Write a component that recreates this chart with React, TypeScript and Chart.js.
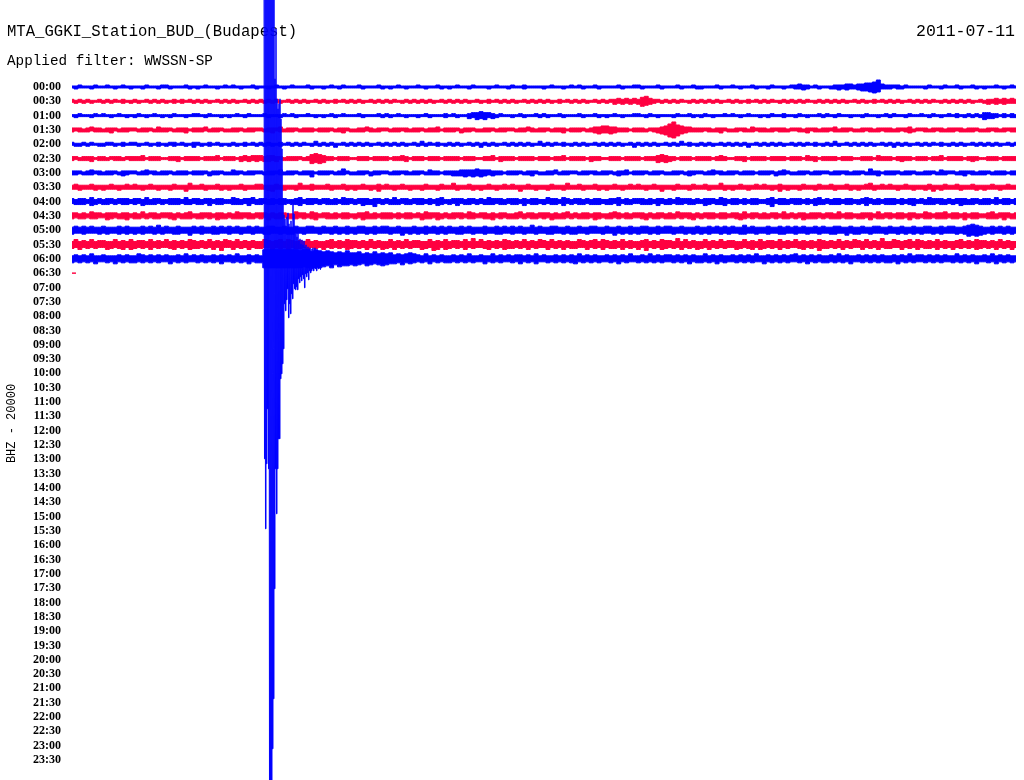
import React, { useEffect, useRef } from 'react';
import { Chart, registerables } from 'chart.js';

Chart.register(...registerables);

const STATION_TITLE = 'MTA_GGKI_Station_BUD_(Budapest)';
const DATE_LABEL = '2011-07-11';
const FILTER_LABEL = 'Applied filter: WWSSN-SP';
const CHANNEL_LABEL = 'BHZ - 20000';

const ROW_LABELS = [
  '00:00', '00:30', '01:00', '01:30', '02:00', '02:30', '03:00', '03:30',
  '04:00', '04:30', '05:00', '05:30', '06:00', '06:30', '07:00', '07:30',
  '08:00', '08:30', '09:00', '09:30', '10:00', '10:30', '11:00', '11:30',
  '12:00', '12:30', '13:00', '13:30', '14:00', '14:30', '15:00', '15:30',
  '16:00', '16:30', '17:00', '17:30', '18:00', '18:30', '19:00', '19:30',
  '20:00', '20:30', '21:00', '21:30', '22:00', '22:30', '23:00', '23:30',
];

// Minutes covered by one row, and the sample interval of the envelopes (minutes)
const ROW_MINUTES = 30;
const SAMPLE_MIN = 0.125;
// amplitude units (counts scaled) per row spacing
const AMP_PER_ROW = 14.32;

// Upper envelope of each row's trace (one group of 8 samples per minute)
const ENV_UP = [
  '11211121 12111211 11121112 21111211 11211112 12111121 11112111 21112111 11211211 12111121 11121111 21111211 11211121 11112111 21121111 11211112 12111211 11121112 21111211 11211121 11112111 21111211 11211112 23221211 11222332 33445732 22212111 11211121 12111211 11121112 1',
  '21212112 12121211 21121212 11212121 21211212 12112121 21212112 12121121 21121212 12112121 21211212 12121121 21212112 11212121 21121212 12112121 21211212 12232323 24532212 12121121 21212112 12112121 21211212 12121121 21212112 12112121 21211212 12121121 21212112 12232323 2',
  '11211121 21112111 12111211 11211112 21121111 11211211 12111121 21112111 11211211 12111121 21121111 11211112 12111233 43321211 11211121 21112111 12111211 11211112 21121111 11211211 12111121 21112111 11211211 12111121 21121111 11211112 12111211 21121112 12112121 33221212 1',
  '22212322 12221222 21222132 22122212 22312221 12221222 21222312 22122212 22212221 12232122 21222212 22122312 22212221 12221222 21223212 22122212 22212334 43322212 22122234 68543322 22212221 12221322 21222212 22122212 22312221 12221222 21222312 22122212 22212221 12221222 2',
  '21121211 12211212 21121121 12212112 21121211 12112121 21211212 12121131 21211212 12121121 21212112 13121211 21211212 12121121 21212113 12121211 21211212 12121121 21212112 12131211 21211212 12121121 21212112 12121211 21311212 12121121 21212112 12121211 21211212 12121121 2',
  '22122212 21222122 22312221 12221222 21222312 22123233 32332212 22212454 32212221 12221222 21223212 22122212 22212221 12231222 21222212 22122312 22212221 12221222 21222343 22122212 22212321 12221222 21222212 22132212 22212221 12221322 21222212 22122312 22212221 12221222 2',
  '22212322 12221222 21232212 22122212 22212221 13221222 21222312 22122212 22212421 12221222 21222212 22132212 22233334 33322212 22212221 12231222 21222212 22122312 22212221 12221222 21232212 22122212 22212321 12221222 21222212 22142212 22212221 12221322 21222212 22122212 2',
  '23222322 22322232 32223222 22322242 23222322 22232223 32223222 22422322 23222322 22322232 32223222 22322232 24222322 22322232 32223222 22322242 23222322 22322232 32223222 22322232 23222422 22322232 32223222 22322232 23222322 22342232 32223222 22322232 23222322 22322232 2',
  '32332423 23323332 33242332 23332423 32332332 24323342 33232332 23423332 33232433 23332332 32423323 33232342 23332332 32433323 33232332 24332432 33232332 23342323 33232332 32433323 23332432 33232332 23423323 33232342 32332332 23432323 33232332 32433323 23332332 33242332 3',
  '33232433 23332332 32423323 33232342 23332332 32433323 33232332 24332432 33232332 23342323 33232332 32433323 23332432 33232332 23423323 33232342 32332332 23432323 33232332 32433323 23332332 33242332 32332423 23323332 33242332 23332423 32332332 24323342 33232332 23423332 3',
  '34343433 43334343 33434353 43343334 34334343 43433434 33443343 34334433 43343343 34433434 43343334 33434343 43343433 34334343 43433534 33443343 34334433 43343343 34433434 43343334 33434343 43353433 34334343 43433434 33443343 34334433 43343343 34433434 43345654 33434343 3',
  '35343534 43353435 34435343 53434354 34353435 43534343 35434535 43435343 34534354 43435343 35343534 43353435 34435363 53434354 34353435 43534343 35434535 43435343 34534354 43635343 35343534 43353435 34435343 53434354 34353435 43534363 35434535 43435343 34534354 43435343 3',
  '34343533 43334343 35434343 43343534 34334343 43533434 39999999 99899798 78767686 67565756 56454565 43534343 34343533 43353434 34434353 43343434 35343433 43434353 34353434 43434343 35343433 43434353 34343434 53434343 34353433 43434343 34343534 43434343 35343433 43534343 3',
  '00',
];

// Lower envelope of each row's trace
const ENV_DOWN = [
  '12111211 11121112 11211121 12111121 21111211 11121112 11211121 11111211 21112111 11211112 12111211 11211121 21111211 11211112 11121111 21111211 11211121 11112111 12111121 11121112 21111211 11211121 12111211 22321121 12232322 34456522 21221111 12111211 11211121 21111211 1',
  '12121211 21211212 12112121 21212112 12121121 21211212 12121211 21212112 12121121 21211212 12112121 21212112 12121211 21211212 12112121 21212112 12121121 21323232 35432121 21211212 12121211 21212112 12112121 21211212 12121211 21212112 12121121 21211212 12121211 23232322 2',
  '12111211 11211121 21121112 12111211 11211121 21112111 11211211 12111121 21121111 11211112 12111211 21121112 11211324 34232111 21121112 12111211 11211121 21112111 11211211 12111121 21121111 11211112 12111211 21121112 11211121 12111211 21112111 11211211 12121212 43321212 2',
  '21222122 22312221 12221222 21222312 22122212 22212221 12231222 21222212 22122312 22212221 12221222 21222212 22132212 22212221 12221222 21222312 22122343 34322212 22212345 78643222 21222312 22122212 22212221 12231222 21222212 22122212 22212321 12221222 21222212 22122212 2',
  '12212112 21121211 12112121 21211213 12121121 21212112 12121211 21211212 12131121 21212112 12121211 21211212 12121121 31212112 12121211 21211212 12121121 21212113 12121211 21211212 12121121 21213112 12121211 21211212 12121121 21212112 13121211 21211212 12121121 21212112 1',
  '21222312 22122212 22212221 12231222 21222212 22132323 23323122 22122545 42212221 12221222 21222312 22122212 22212221 12221322 21222212 22122212 22213221 12221222 21222434 32122212 22212221 12231222 21222212 22122312 22212221 12221222 21232212 22122212 22212321 12221222 2',
  '22122212 22212321 12221222 21222212 22132212 22212221 12221222 21222412 22122212 22213221 12221222 21222212 23334343 43232212 22122312 22212221 12221222 21232212 22122212 22212321 12221222 21222212 22132212 22212221 12221222 21222312 22122212 22212221 12231222 21222212 2',
  '22322232 32223222 22322232 23222422 22322232 32223222 22342232 23222322 22322232 32223242 22322232 23222322 22322232 32223222 22422232 23222322 22322232 32223222 22322242 23222322 22322232 32223222 22324232 23222322 22322232 32223222 22322232 23242322 22322232 32223222 2',
  '23332432 33232332 32433323 23332332 33242332 23332423 32332332 33423323 23332332 32433523 23332332 33232432 32423323 23332332 33242332 32332423 23323332 33242332 23332423 32332332 24323342 33232332 23523332 33232433 23332332 32423323 33232342 23332332 32433323 33232332 3',
  '32332332 24323342 33232332 23423332 33232433 23332332 32423323 33232342 23332332 32433323 33232332 24332432 33232332 23342323 33232332 32433323 23332432 33232332 23423323 33232342 32332332 23432323 33232332 32433323 23332332 33242332 32332423 23323332 33242332 23332423 3',
  '43343334 34334343 43433434 33443353 34334433 43343343 34433434 43343334 33434343 43343433 34335343 43433434 33443343 34334433 43343343 34433434 43343334 33534343 43343433 34334343 43433434 33443343 34334433 43343343 34433534 43343334 33434343 43343433 34346565 43433434 3',
  '43534343 35434535 43435343 34534354 43435363 35343534 43353435 34435343 53434354 34353435 43534343 35436535 43435343 34534354 43435343 35343534 43353435 34435343 53634354 34353435 43534343 35434535 43435343 34534364 43435343 35343534 43353435 34435343 53434354 34353435 3',
  '43434353 34353434 43434343 35343433 43434353 34343534 49999999 99989899 87968776 76576567 65546454 34353434 43434343 35343433 43534353 34343434 53434343 34353433 43434343 34343534 43435343 34343433 53434343 34353434 43434353 34343434 43534343 34343433 43434353 34353434 3',
  '00',
];

// Earthquake arrival on the 06:00 row (alternating up / down swings)
const QUAKE_ROW = 12;
const QUAKE_START_MIN = 6.1016;
const QUAKE_STEP_MIN = 0.01589;
const QUAKE_AMP = [
  300, -200, 300, -270, 300, -205, 300, -150, 300, -210, 300, -560, 300, -560, 300, -560,
  300, -490, 290, -440, 260, -330, 180, -210, 230, -255, 160, -210, 150, -180, 155, -180,
  160, -120, 140, -115, 110, -105, 60, -90,
  44, -45, 40, -52, 30, -41, 42, -30, 46, -59, 35, -45, 28, -55, 38, -35, 30, -40, 54, -25,
  45, -30, 25, -31, 30, -28, 22, -31, 26, -20, 18, -24, 20, -18, 15, -22, 19, -16, 14, -20,
  18, -29, 12, -15, 14, -18, 10, -14, 12, -21, 9, -12, 11, -14, 8, -12, 10, -10, 11, -12,
  8, -9, 11, -10, 7, -12, 9, -8, 8, -10, 6, -9, 8, -11,
];

const BLUE = '#0000ff';
const RED = 'rgb(255,0,64)';

const parseEnv = (s: string) => s.replace(/\s+/g, '').split('').map(Number);

function buildDatasets() {
  const datasets: any[] = [];
  ENV_UP.forEach((up, row) => {
    const upVals = parseEnv(up);
    const dnVals = parseEnv(ENV_DOWN[row]);
    const color = row % 2 === 0 ? BLUE : RED;
    const common = {
      borderColor: color,
      backgroundColor: color,
      borderWidth: 1,
      pointRadius: 0,
      stepped: 'middle',
      clip: false,
      order: 100 - row,
    };
    datasets.push({
      ...common,
      label: `${ROW_LABELS[row]} upper`,
      fill: false,
      data: upVals.map((v, i) => ({ x: i * SAMPLE_MIN, y: row - v / AMP_PER_ROW })),
    });
    datasets.push({
      ...common,
      label: `${ROW_LABELS[row]} lower`,
      fill: '-1',
      data: dnVals.map((v, i) => ({ x: i * SAMPLE_MIN, y: row + v / AMP_PER_ROW })),
    });
  });
  datasets.push({
    label: 'quake',
    borderColor: BLUE,
    backgroundColor: BLUE,
    borderWidth: 1,
    pointRadius: 0,
    fill: false,
    clip: false,
    order: 0,
    data: QUAKE_AMP.map((a, i) => ({
      x: QUAKE_START_MIN + i * QUAKE_STEP_MIN,
      y: QUAKE_ROW - a / AMP_PER_ROW,
    })),
  });
  return datasets;
}

const headerPlugin = {
  id: 'helicorderHeader',
  beforeDraw(chart: any) {
    const { ctx, width, height } = chart;
    ctx.save();
    ctx.fillStyle = '#ffffff';
    ctx.fillRect(0, 0, width, height);
    ctx.restore();
  },
  beforeDatasetsDraw(chart: any) {
    const { ctx } = chart;
    ctx.save();
    ctx.fillStyle = '#000000';
    ctx.textBaseline = 'alphabetic';
    ctx.textAlign = 'left';
    ctx.font = '15.6px "Liberation Mono"';
    ctx.fillText(STATION_TITLE, 7, 36);
    ctx.font = '14.3px "Liberation Mono"';
    ctx.fillText(FILTER_LABEL, 7, 65);
    ctx.textAlign = 'right';
    ctx.font = '16.5px "Liberation Mono"';
    ctx.fillText(DATE_LABEL, 1015, 36);
    ctx.restore();
  },
};

export default function App() {
  const canvasRef = useRef<HTMLCanvasElement | null>(null);

  useEffect(() => {
    if (!canvasRef.current) return;
    const chart = new Chart(canvasRef.current, {
      type: 'line',
      data: { datasets: buildDatasets() },
      options: {
        animation: false,
        responsive: false,
        devicePixelRatio: 1,
        events: [],
        layout: { padding: { top: 79.84, bottom: 12.84, left: 0, right: 8 } },
        plugins: {
          legend: { display: false },
          tooltip: { enabled: false },
          title: { display: false },
        },
        scales: {
          x: {
            type: 'linear',
            min: 0,
            max: ROW_MINUTES,
            display: false,
          },
          y: {
            type: 'linear',
            reverse: true,
            min: -0.5,
            max: ROW_LABELS.length - 0.5,
            afterBuildTicks: (scale: any) => {
              scale.ticks = ROW_LABELS.map((_, i) => ({ value: i }));
            },
            afterFit: (scale: any) => {
              scale.width = 72;
              scale.paddingTop = 0;
              scale.paddingBottom = 0;
            },
            grid: { display: false, drawTicks: false },
            border: { display: false },
            ticks: {
              autoSkip: false,
              padding: 11,
              color: '#000000',
              font: { family: 'Liberation Serif', size: 12, weight: 'bold' },
              callback: (value: any) => ROW_LABELS[Math.round(Number(value))] ?? '',
            },
            title: {
              display: true,
              text: CHANNEL_LABEL,
              color: '#000000',
              font: { family: 'Liberation Mono', size: 12 },
              padding: { top: 4.5, bottom: 0 },
            },
          },
        },
      },
      plugins: [headerPlugin],
    });
    return () => chart.destroy();
  }, []);

  return (
    <div style={{ position: 'absolute', left: 0, top: 0, width: 1024, height: 780, background: '#ffffff' }}>
      <canvas ref={canvasRef} width={1024} height={780} style={{ display: 'block' }} />
    </div>
  );
}
